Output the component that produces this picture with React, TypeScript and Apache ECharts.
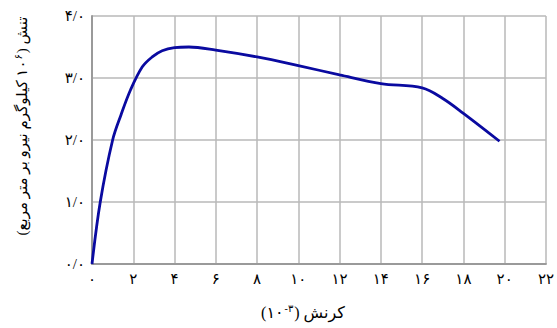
import React, { useEffect, useRef } from "react";
import * as echarts from "echarts";

const strainValues = [0, 0.4, 1.0, 1.4, 1.87, 2.44, 2.92, 3.4, 4.0, 4.7, 6, 8, 10, 12, 14, 16, 17, 18, 19.75];
const stressValues = [0, 1.0, 2.0, 2.4, 2.81, 3.18, 3.34, 3.44, 3.49, 3.5, 3.45, 3.34, 3.2, 3.05, 2.91, 2.84, 2.67, 2.43, 1.98];

const persianDigits = ["۰", "۱", "۲", "۳", "۴", "۵", "۶", "۷", "۸", "۹"];
const toPersian = (s: string) => s.replace(/[0-9]/g, (d) => persianDigits[+d]);

const xAxisTitleParts = ["(۱۰", "-۳", ") کرنش"];
const yAxisTitleParts = ["(کیلوگرم نیرو بر متر مربع", " ۱۰", "۶", ") تنش"];

const FONT = "'Liberation Serif', 'DejaVu Serif', 'DejaVu Sans', serif";

export default function App() {
  const ref = useRef<HTMLDivElement>(null);
  useEffect(() => {
    if (!ref.current) return;
    const chart = echarts.init(ref.current, null, { renderer: "svg" });
    const data = strainValues.map((x, i) => [x, stressValues[i]]);
    chart.setOption({
      animation: false,
      backgroundColor: "#ffffff",
      grid: { left: 92, right: 5, top: 16, bottom: 64, containLabel: false },
      xAxis: {
        type: "value",
        min: 0,
        max: 22,
        interval: 2,
        axisLine: { show: true, lineStyle: { color: "#9a9a9a", width: 2 } },
        axisTick: { show: false },
        splitLine: { show: true, lineStyle: { color: "#b8b8b8", width: 1.5 } },
        axisLabel: {
          color: "#000",
          fontSize: 15,
          fontFamily: FONT,
          margin: 7,
          formatter: (v: number) => toPersian(String(v)),
        },
      },
      yAxis: {
        type: "value",
        min: 0,
        max: 4,
        interval: 1,
        axisLine: { show: true, lineStyle: { color: "#9a9a9a", width: 2 } },
        axisTick: { show: false },
        splitLine: { show: true, lineStyle: { color: "#b8b8b8", width: 1.5 } },
        axisLabel: {
          color: "#000",
          fontSize: 15,
          fontFamily: FONT,
          margin: 7,
          formatter: (v: number) => toPersian(String(v)) + "/۰",
        },
      },
      graphic: [
        {
          type: "text",
          x: 303,
          y: 312,
          style: {
            text: `{a|${xAxisTitleParts[0]}}{s|${xAxisTitleParts[1]}}{a|${xAxisTitleParts[2]}}`,
            align: "center",
            verticalAlign: "middle",
            fill: "#000",
            rich: {
              a: { fontSize: 16, fontFamily: FONT, fill: "#000" },
              s: { fontSize: 10, fontFamily: FONT, fill: "#000", verticalAlign: "top", padding: [0, 1, 8, 1] },
            },
          },
        },
        {
          type: "text",
          x: 22,
          y: 126,
          rotation: Math.PI / 2,
          style: {
            text: `{a|${yAxisTitleParts[0]}}{a|${yAxisTitleParts[1]}}{s|${yAxisTitleParts[2]}}{a|${yAxisTitleParts[3]}}`,
            align: "center",
            verticalAlign: "middle",
            fill: "#000",
            rich: {
              a: { fontSize: 15, fontFamily: FONT, fill: "#000" },
              s: { fontSize: 10, fontFamily: FONT, fill: "#000", verticalAlign: "top", padding: [0, 1, 8, 1] },
            },
          },
        },
      ],
      series: [
        {
          type: "line",
          data,
          smooth: 0.35,
          showSymbol: false,
          lineStyle: { color: "#0a0aa0", width: 2.8 },
        },
      ],
    });
    return () => chart.dispose();
  }, []);
  return (
    <div
      ref={ref}
      style={{ position: "fixed", left: 0, top: 0, width: 557, height: 328 }}
    />
  );
}
